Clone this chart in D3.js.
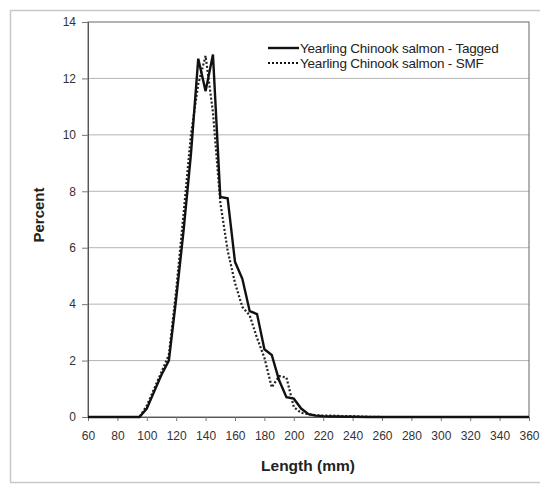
<!DOCTYPE html>
<html>
<head>
<meta charset="utf-8">
<script src="https://cdn.jsdelivr.net/npm/d3@7"></script>
<style>
  body { margin: 0; background: #fff; }
  text { font-family: "Liberation Sans", Arial, sans-serif; }
</style>
</head>
<body>
<div id="plot"></div>
<script>
// length bins (mm) and percent per bin
const lengths = [60, 65, 70, 75, 80, 85, 90, 95, 100, 105, 110, 115, 120, 125, 130, 135, 140, 145,
  150, 155, 160, 165, 170, 175, 180, 185, 190, 195, 200, 205, 210, 215, 220, 225, 230, 235, 240,
  250, 260, 280, 300, 320, 340, 360];

const tagged = [0, 0, 0, 0, 0, 0, 0, 0, 0.3, 0.9, 1.5, 2.0, 4.2, 6.6, 9.3, 12.7, 11.55, 12.85,
  7.8, 7.75, 5.5, 4.9, 3.75, 3.65, 2.4, 2.2, 1.3, 0.7, 0.65, 0.3, 0.1, 0.05, 0.03, 0.02, 0.02, 0.01, 0.01,
  0, 0, 0, 0, 0, 0, 0];

const smf = [0, 0, 0, 0, 0, 0, 0, 0, 0.4, 1.0, 1.6, 2.2, 4.5, 7.2, 10.0, 11.8, 12.8, 10.8,
  7.6, 5.9, 4.75, 3.9, 3.6, 2.8, 2.1, 1.05, 1.45, 1.4, 0.35, 0.15, 0.1, 0.06, 0.05, 0.05, 0.04, 0.03, 0.03,
  0.01, 0, 0, 0, 0, 0, 0];

const xTicks = d3.range(60, 361, 20);
const yTicks = [0, 2, 4, 6, 8, 10, 12, 14];
const seriesNames = ["Yearling Chinook salmon - Tagged", "Yearling Chinook salmon - SMF"];

const width = 540, height = 485;
const margin = {top: 22, right: 11, bottom: 68, left: 88};

const svg = d3.select("#plot")
  .append("svg")
  .attr("width", width)
  .attr("height", height);

// outer frame
svg.append("rect")
  .attr("x", 10.5).attr("y", 10.5)
  .attr("width", 540).attr("height", 472)
  .attr("fill", "none")
  .attr("stroke", "#c8c8c8")
  .attr("stroke-width", 1.5);

const x = d3.scaleLinear()
  .domain([60, 360])
  .range([margin.left, width - margin.right]);

const y = d3.scaleLinear()
  .domain([0, 14])
  .range([height - margin.bottom, margin.top]);

// gridlines
svg.append("g")
  .selectAll("line")
  .data(yTicks.filter(d => d > 0 && d < 14))
  .join("line")
    .attr("x1", x(60)).attr("x2", x(360))
    .attr("y1", d => y(d)).attr("y2", d => y(d))
    .attr("stroke", "#b4b4b4")
    .attr("stroke-width", 1);

// plot border
svg.append("rect")
  .attr("x", x(60)).attr("y", y(14))
  .attr("width", x(360) - x(60))
  .attr("height", y(0) - y(14))
  .attr("fill", "none")
  .attr("stroke", "#666")
  .attr("stroke-width", 1);

const yAxis = svg.append("g")
  .attr("transform", `translate(${x(60)},0)`)
  .call(d3.axisLeft(y).tickValues(yTicks).tickSize(6).tickPadding(6));

const xAxis = svg.append("g")
  .attr("transform", `translate(0,${y(0)})`)
  .call(d3.axisBottom(x).tickValues(xTicks).tickSize(4).tickPadding(10));

[yAxis, xAxis].forEach(g => {
  g.select(".domain").attr("stroke", "#555");
  g.selectAll(".tick line").attr("stroke", "#777");
  g.selectAll(".tick text")
    .attr("fill", "#333")
    .style("font-size", "12px")
    .style("font-family", "Liberation Sans, Arial, sans-serif");
});

const pts = lengths.map((l, i) => ({l, t: tagged[i], s: smf[i]}));

const lineT = d3.line().x(d => x(d.l)).y(d => y(d.t));
const lineS = d3.line().x(d => x(d.l)).y(d => y(d.s));

svg.append("path")
  .datum(pts)
  .attr("d", lineS)
  .attr("fill", "none")
  .attr("stroke", "#222")
  .attr("stroke-width", 2.2)
  .attr("stroke-dasharray", "2,2");

svg.append("path")
  .datum(pts)
  .attr("d", lineT)
  .attr("fill", "none")
  .attr("stroke", "#111")
  .attr("stroke-width", 2.4)
  .attr("stroke-linejoin", "miter");

// legend
const legend = svg.append("g")
  .attr("transform", "translate(268,48)");

seriesNames.forEach((name, i) => {
  const g = legend.append("g").attr("transform", `translate(0,${i * 15})`);
  g.append("line")
    .attr("x1", 0).attr("x2", 31)
    .attr("stroke", "#111")
    .attr("stroke-width", i === 0 ? 2.4 : 2)
    .attr("stroke-dasharray", i === 0 ? null : "2,2");
  g.append("text")
    .attr("x", 32).attr("y", 4.5)
    .attr("fill", "#222")
    .style("font-size", "13.5px")
    .style("letter-spacing", "-0.2px")
    .text(name);
});

// axis titles
svg.append("text")
  .attr("transform", "rotate(-90)")
  .attr("x", -215)
  .attr("y", 44)
  .attr("text-anchor", "middle")
  .style("font-size", "15px")
  .style("font-weight", "bold")
  .attr("fill", "#222")
  .text("Percent");

svg.append("text")
  .attr("x", 308)
  .attr("y", 471)
  .attr("text-anchor", "middle")
  .style("font-size", "15.5px")
  .style("font-weight", "bold")
  .attr("fill", "#222")
  .text("Length (mm)");
</script>
</body>
</html>
